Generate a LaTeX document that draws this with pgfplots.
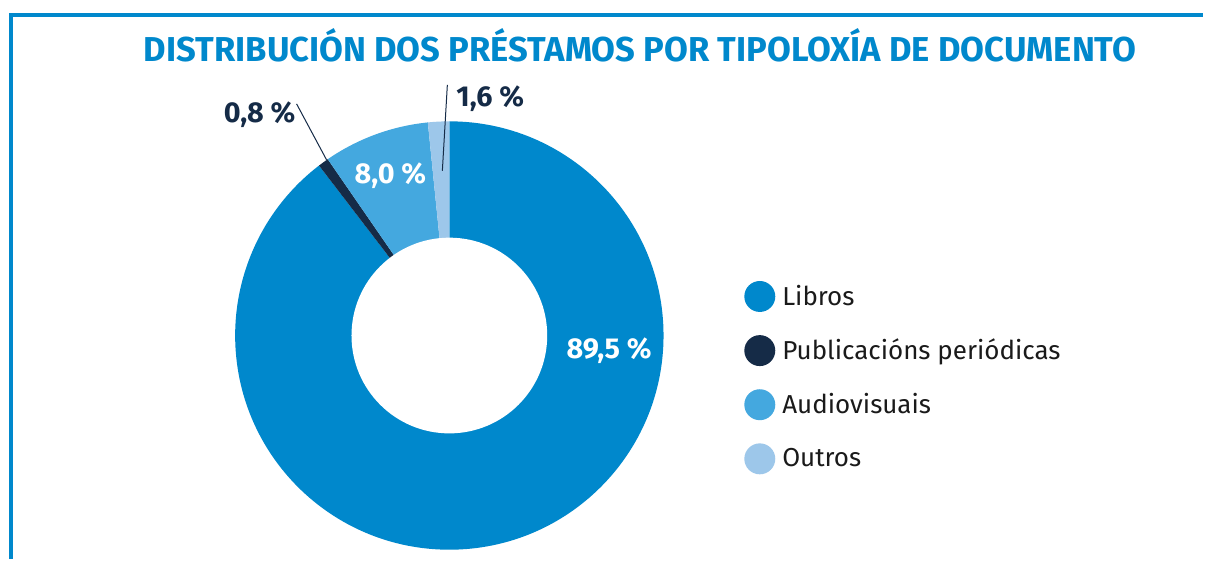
\documentclass[border=0pt]{standalone}
\usepackage{fontspec}
\setmainfont{Fira Sans}
\usepackage{pgfplots}
\pgfplotsset{compat=1.18}
\usepackage{pgfplotstable}
\definecolor{cLib}{HTML}{0088CC}
\definecolor{cPub}{HTML}{152B47}
\definecolor{cAud}{HTML}{44A8DF}
\definecolor{cOut}{HTML}{9DC7EA}
\definecolor{cTxt}{HTML}{1A1A1A}

\pgfplotstableread{
cat val
Libros 89.5
Publicacions 0.8
Audiovisuais 8.0
Outros 1.6
}\slices
\pgfplotstablegetelem{0}{val}\of\slices \let\vA\pgfplotsretval
\pgfplotstablegetelem{1}{val}\of\slices \let\vB\pgfplotsretval
\pgfplotstablegetelem{2}{val}\of\slices \let\vC\pgfplotsretval
\pgfplotstablegetelem{3}{val}\of\slices \let\vD\pgfplotsretval
\pgfmathsetmacro\tot{\vA+\vB+\vC+\vD}
\pgfmathsetmacro\tA{90}
\pgfmathsetmacro\tB{\tA-\vA/\tot*360}
\pgfmathsetmacro\tC{\tB-\vB/\tot*360}
\pgfmathsetmacro\tD{\tC-\vC/\tot*360}
\pgfmathsetmacro\tE{\tD-\vD/\tot*360}
\def\R{107.25pt}
\def\r{49pt}

\begin{document}
\begin{tikzpicture}
\begin{axis}[
  scale only axis, width=602.5pt, height=280pt,
  xmin=0, xmax=1205, ymin=0, ymax=560,
  hide axis, clip=false,
  legend image code/.code={\fill[#1, draw=none] (0pt,0pt) circle[radius=7.75pt];},
  legend cell align=left,
  legend style={at={(axis cs:745,279)}, anchor=north west, draw=none, fill=none,
    font=\fontsize{13}{15}\selectfont, text=cTxt, row sep=11.6pt, inner sep=0pt,
    nodes={inner sep=0pt},
    /tikz/every odd column/.append style={column sep=3.5pt}},
]
\fill[white] (axis cs:0,0) rectangle (axis cs:1205,560);
\draw[cLib, line width=1.75pt] (axis cs:11,0) -- (axis cs:11,545) -- (axis cs:1205,545);
\node[cLib, font=\fontsize{17.3}{19}\selectfont\bfseries] at (axis cs:641,515) {DISTRIBUCIÓN DOS PRÉSTAMOS POR TIPOLOXÍA DE DOCUMENTO};

\fill[cLib] (axis cs:450,224) -- ++(\tA:\R) arc[start angle=\tA, end angle=\tB, radius=\R] -- cycle;
\fill[cPub] (axis cs:450,224) -- ++(\tB:\R) arc[start angle=\tB, end angle=\tC, radius=\R] -- cycle;
\fill[cAud] (axis cs:450,224) -- ++(\tC:\R) arc[start angle=\tC, end angle=\tD, radius=\R] -- cycle;
\fill[cOut] (axis cs:450,224) -- ++(\tD:\R) arc[start angle=\tD, end angle=\tE, radius=\R] -- cycle;
\fill[white] (axis cs:450,224) circle[radius=\r];

\draw[cPub, line width=0.5pt] (axis cs:297,456) -- (axis cs:327,400);
\draw[cPub, line width=0.5pt] (axis cs:448,475) -- (axis cs:443,389);

\node[white, font=\fontsize{14.4}{16}\selectfont\bfseries, anchor=base] at (axis cs:610,201) {89,5 \%};
\node[white, font=\fontsize{14.4}{16}\selectfont\bfseries, anchor=base] at (axis cs:391,376) {8,0 \%};
\node[cPub, font=\fontsize{14.4}{16}\selectfont\bfseries, anchor=base] at (axis cs:260,437) {0,8 \%};
\node[cPub, font=\fontsize{14.4}{16}\selectfont\bfseries, anchor=base] at (axis cs:491,453) {1,6 \%};

\addlegendimage{fill=cLib}
\addlegendentry{Libros}
\addlegendimage{fill=cPub}
\addlegendentry{Publicacións periódicas}
\addlegendimage{fill=cAud}
\addlegendentry{Audiovisuais}
\addlegendimage{fill=cOut}
\addlegendentry{Outros}
\end{axis}
\end{tikzpicture}
\end{document}
